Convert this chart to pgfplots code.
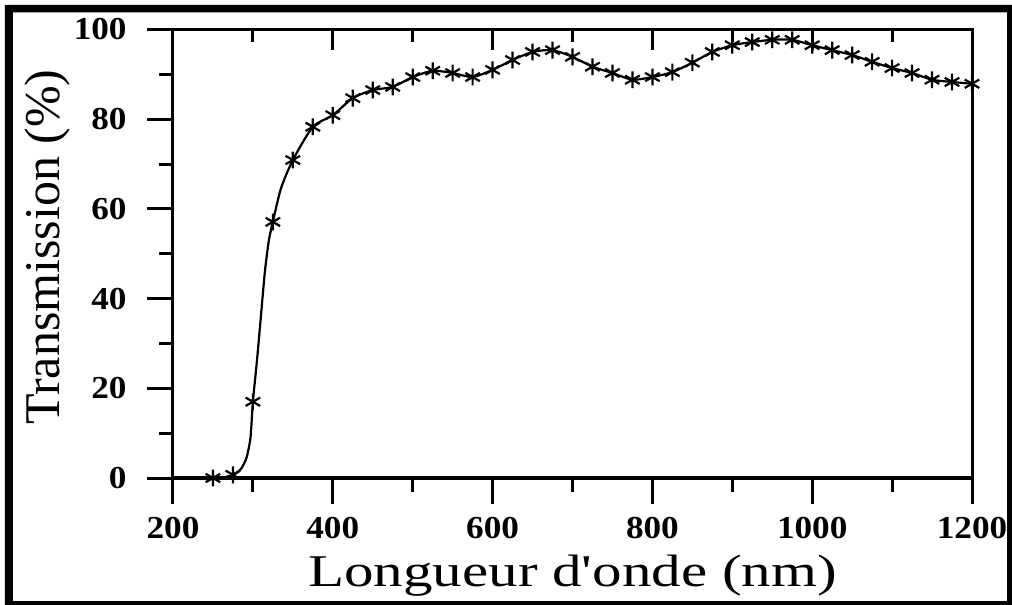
\documentclass[border=0pt]{standalone}
\usepackage{pgfplots}
\pgfplotsset{compat=1.18}
\usepackage{fontspec}
\setmainfont{Liberation Serif}
\newcommand\tl[1]{\scalebox{1.1}[1]{\fontsize{16}{16}\selectfont\bfseries #1}}
\begin{document}
\begin{tikzpicture}
\useasboundingbox (-86.5pt,-63.5pt) rectangle (419.5pt,239pt);
\fill[black,even odd rule] (-84pt,-63.5pt) rectangle (419.5pt,236.5pt) (-80pt,-61.5pt) rectangle (417pt,232.75pt);
\begin{axis}[at={(0,0)}, anchor=south west, scale only axis,
  width=399.5pt, height=224.25pt,
  xmin=200, xmax=1200, ymin=0, ymax=100,
  axis line style={line width=1.5pt},
  xtick={200,400,...,1200}, minor xtick={300,500,...,1100},
  ytick=\empty, xticklabels={},
  xtick pos=right, tick align=inside,
  major tick length=10.5pt, minor tick length=6.5pt,
  tick style={line width=1.5pt, black}]
\end{axis}
\begin{axis}[at={(0,0)}, anchor=south west, scale only axis,
  width=399.5pt, height=224.25pt,
  xmin=200, xmax=1200, ymin=0, ymax=100,
  axis line style={line width=1.5pt},
  xtick={200,400,...,1200}, minor xtick={300,500,...,1100},
  ytick={0,20,...,100}, minor ytick={10,30,...,90},
  xticklabels={\tl{200},\tl{400},\tl{600},\tl{800},\tl{1000},\tl{1200}},
  yticklabels={\tl{0},\tl{20},\tl{40},\tl{60},\tl{80},\tl{100}},
  xtick pos=left, ytick pos=left, tick align=outside,
  major tick length=13pt, minor tick length=7pt,
  tick style={line width=1.5pt, black},
  xticklabel style={anchor=north, inner sep=0pt, yshift=-6.5pt},
  yticklabel style={anchor=east, inner sep=0pt, xshift=-10pt},
  xlabel={\scalebox{1.3}[1]{\fontsize{22.7}{22.7}\selectfont Longueur d\textquotesingle onde (nm)}},
  ylabel={\fontsize{25}{25}\selectfont Transmission (\%)},
  xlabel style={at={(axis description cs:0.5,-0.2426)}, anchor=base, inner sep=0pt},
  ylabel style={at={(axis description cs:-0.1565,0.515)}, anchor=center, inner sep=0pt},
  ]
\addplot[black, line width=1.1pt, smooth, tension=0.4] coordinates {
(250,0) (262,0.1) (275,0.7) (285,2) (292,4.5) (297,9) (300,17) (305,26) (310,36) (315,46) (320,53) (325,57.1) (335,64.5) (350,70.9) (375,78.3) (400,80.9) (425,84.7) (450,86.5) (475,87.2) (500,89.4) (525,90.8) (550,90.3) (575,89.4) (600,91.0) (625,93.2) (650,95.0) (675,95.4) (700,93.9) (725,91.7) (750,90.3) (775,88.8) (800,89.4) (825,90.5) (850,92.6) (875,95.0) (900,96.5) (925,97.2) (950,97.7) (975,97.7) (1000,96.5) (1025,95.4) (1050,94.3) (1075,92.8) (1100,91.4) (1125,90.3) (1150,88.8) (1175,88.3) (1200,87.9)};
\addplot[black, only marks, mark=asterisk, mark size=4.2pt, mark options={line width=1.1pt}] coordinates {
(250,0) (275,0.7) (300,17) (325,57.1) (350,70.9) (375,78.3) (400,80.9) (425,84.7) (450,86.5) (475,87.2) (500,89.4) (525,90.8) (550,90.3) (575,89.4) (600,91.0) (625,93.2) (650,95.0) (675,95.4) (700,93.9) (725,91.7) (750,90.3) (775,88.8) (800,89.4) (825,90.5) (850,92.6) (875,95.0) (900,96.5) (925,97.2) (950,97.7) (975,97.7) (1000,96.5) (1025,95.4) (1050,94.3) (1075,92.8) (1100,91.4) (1125,90.3) (1150,88.8) (1175,88.3) (1200,87.9)};
\end{axis}
\end{tikzpicture}
\end{document}
